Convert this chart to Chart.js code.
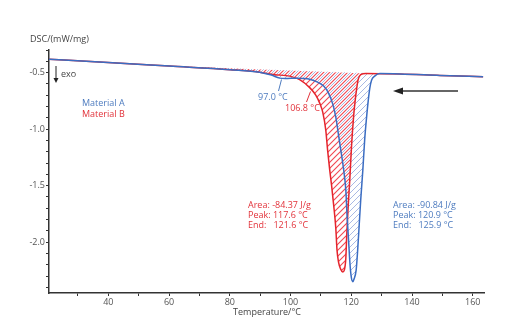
<!DOCTYPE html>
<html><head><meta charset="utf-8">
<script src="https://cdn.jsdelivr.net/npm/chart.js@4.4.0/dist/chart.umd.min.js"></script>
<style>html,body{margin:0;padding:0;background:#fff}canvas{display:block}</style>
</head><body>
<canvas id="c" width="522" height="335"></canvas>
<script>
// Material A (blue) DSC curve
const tempA = [20.46, 39.9, 60.1, 80.2, 89.8, 93.7, 96.4, 98.3, 102.0, 106.3, 108.9, 110.9, 112.5, 113.9, 114.9, 115.8, 116.8, 117.5, 118.2, 118.6, 119.1, 119.6, 120.0, 120.5, 120.9, 121.6, 122.1, 122.6, 123.1, 123.8, 124.4, 125.1, 125.6, 126.1, 126.7, 127.7, 129.4, 136.0, 149.2, 163.4];
const dscA  = [-0.381, -0.410, -0.442, -0.474, -0.496, -0.522, -0.549, -0.553, -0.549, -0.558, -0.584, -0.619, -0.681, -0.779, -0.894, -1.053, -1.230, -1.363, -1.540, -1.761, -1.982, -2.204, -2.310, -2.350, -2.327, -2.248, -2.071, -1.850, -1.628, -1.363, -1.097, -0.876, -0.743, -0.637, -0.566, -0.531, -0.509, -0.512, -0.525, -0.537];
// Material B (red) DSC curve
const tempB = [20.46, 39.9, 60.1, 80.2, 89.8, 94.7, 99.7, 103.0, 106.3, 108.3, 109.6, 110.6, 111.6, 112.2, 112.9, 113.5, 114.2, 114.9, 115.3, 115.8, 116.5, 117.2, 117.7, 118.2, 118.5, 119.0, 119.5, 120.1, 120.8, 121.3, 121.8, 122.3, 123.1, 124.8, 136.0, 149.2, 163.4];
const dscB  = [-0.381, -0.410, -0.442, -0.474, -0.496, -0.518, -0.531, -0.562, -0.633, -0.699, -0.770, -0.850, -1.009, -1.186, -1.363, -1.496, -1.673, -1.876, -2.071, -2.177, -2.239, -2.265, -2.248, -2.142, -1.938, -1.673, -1.451, -1.142, -0.876, -0.743, -0.637, -0.558, -0.518, -0.507, -0.512, -0.525, -0.537];
// Integration baselines (start/end temperature and value)
const baseA = {t: [60.1, 129.4], v: [-0.442, -0.509]};
const baseB = {t: [60.1, 124.8], v: [-0.442, -0.507]};
// Annotation texts
const seriesNames = ['Material A', 'Material B'];
const peakTextA = ['Area: -90.84 J/g', 'Peak: 120.9 °C', 'End:   125.9 °C'];
const peakTextB = ['Area: -84.37 J/g', 'Peak: 117.6 °C', 'End:   121.6 °C'];
const onsetA = '97.0 °C', onsetB = '106.8 °C';

const BLUE = '#3b6dc2', RED = '#e5242c', BLUE_T = '#4d7bbf', RED_T = '#e2323a';
const FONT = '"Open Sans", "Noto Sans", sans-serif';

function pts(t, v){ return t.map((x,i)=>({x:x, y:v[i]})); }
function slice(t, v, a, b){ const r=[]; t.forEach((x,i)=>{ if(x>=a-1e-9 && x<=b+1e-9) r.push({x:x,y:v[i]}); }); return r; }
function hatch(color, shift, w){
  const s=6, c=document.createElement('canvas'); c.width=s; c.height=s;
  const g=c.getContext('2d'); g.strokeStyle=color; g.lineWidth=w;
  g.translate(shift,0);
  g.beginPath();
  for(let k=-2;k<=2;k++){ g.moveTo(k*s-1, s+1); g.lineTo(k*s+s+1, -1); }
  g.stroke();
  return g.createPattern(c,'repeat');
}
const patA = hatch('rgba(95,125,205,0.6)', 3, 0.9);
const patB = hatch('rgba(240,60,72,0.95)', 0, 1.1);

const annot = {
  id:'annot',
  afterDraw(chart){
    const ctx=chart.ctx; ctx.save();
    ctx.font='9px '+FONT; ctx.textBaseline='middle'; ctx.textAlign='left';
    ctx.fillStyle='#444'; ctx.fillText('DSC/(mW/mg)', 30, 39);
    // exo arrow
    ctx.strokeStyle='#222'; ctx.fillStyle='#222'; ctx.lineWidth=1;
    ctx.beginPath(); ctx.moveTo(56,66); ctx.lineTo(56,80); ctx.stroke();
    ctx.beginPath(); ctx.moveTo(53.5,78); ctx.lineTo(58.5,78); ctx.lineTo(56,83); ctx.closePath(); ctx.fill();
    ctx.fillStyle='#444'; ctx.fillText('exo', 61, 74);
    // legend texts
    ctx.fillStyle=BLUE_T; ctx.fillText(seriesNames[0], 82, 103);
    ctx.fillStyle=RED_T; ctx.fillText(seriesNames[1], 82, 114);
    // onset labels + leaders
    ctx.fillStyle=BLUE_T; ctx.fillText(onsetA, 258, 97.5);
    ctx.strokeStyle=BLUE_T; ctx.beginPath(); ctx.moveTo(278.5,91); ctx.lineTo(281.5,79.5); ctx.stroke();
    ctx.fillStyle=RED_T; ctx.fillText(onsetB, 285, 108.5);
    ctx.strokeStyle=RED_T; ctx.beginPath(); ctx.moveTo(306.5,102); ctx.lineTo(310.5,91.5); ctx.stroke();
    // peak blocks
    ctx.fillStyle=RED_T; peakTextB.forEach((s,i)=>ctx.fillText(s, 248, 205+i*10.2));
    ctx.fillStyle=BLUE_T; peakTextA.forEach((s,i)=>ctx.fillText(s, 393, 205+i*10.2));
    // heating direction arrow
    ctx.strokeStyle='#333'; ctx.fillStyle='#222'; ctx.lineWidth=1.6;
    ctx.beginPath(); ctx.moveTo(400,91); ctx.lineTo(458,91); ctx.stroke();
    ctx.beginPath(); ctx.moveTo(393,91); ctx.lineTo(403,87.5); ctx.lineTo(403,94.5); ctx.closePath(); ctx.fill();
    // x title
    ctx.fillStyle='#444'; ctx.textAlign='center'; ctx.fillText('Temperature/°C', 267, 312);
    ctx.restore();
  }
};

new Chart(document.getElementById('c'), {
  type:'line',
  data:{ datasets:[
    {data:pts(tempA,dscA), borderColor:BLUE, borderWidth:1.5, pointRadius:0, cubicInterpolationMode:'monotone', fill:false, order:0},
    {data:pts(tempB,dscB), borderColor:RED, borderWidth:1.5, pointRadius:0, cubicInterpolationMode:'monotone', fill:false, order:1},
    {data:slice(tempA,dscA,baseA.t[0],baseA.t[1]), borderWidth:0, borderColor:'rgba(0,0,0,0)', pointRadius:0, cubicInterpolationMode:'monotone', backgroundColor:patA, fill:3, order:3},
    {data:pts(baseA.t,baseA.v), borderWidth:0, borderColor:'rgba(0,0,0,0)', pointRadius:0, fill:false, order:4},
    {data:slice(tempB,dscB,baseB.t[0],baseB.t[1]), borderWidth:0, borderColor:'rgba(0,0,0,0)', pointRadius:0, cubicInterpolationMode:'monotone', backgroundColor:patB, fill:5, order:2},
    {data:pts(baseB.t,baseB.v), borderWidth:0, borderColor:'rgba(0,0,0,0)', pointRadius:0, fill:false, order:5}
  ]},
  options:{
    responsive:false, animation:false, events:[],
    layout:{padding:{top:50, right:38, left:0, bottom:0}},
    plugins:{legend:{display:false}, tooltip:{enabled:false}},
    scales:{
      x:{type:'linear', min:20.46, max:163.7,
         afterFit:s=>{s.height=42;},
         border:{color:'#333', width:1.5},
         grid:{drawOnChartArea:false, tickLength:3, tickColor:'#333'},
         ticks:{stepSize:10, includeBounds:false, autoSkip:false, maxRotation:0, padding:1, color:'#555', font:{size:9, family:FONT},
                callback:v=>(Math.round(v)%20===0 ? String(Math.round(v)) : '')}},
      y:{type:'linear', min:-2.45, max:-0.3,
         afterFit:s=>{s.width=49;},
         border:{color:'#333', width:1.5},
         grid:{drawOnChartArea:false, tickLength:3, tickColor:'#333'},
         ticks:{stepSize:0.1, includeBounds:false, autoSkip:false, padding:1, color:'#555', font:{size:9, family:FONT},
                callback:v=>{const r=Math.round(v*10); return r%5===0 ? (r/10).toFixed(1) : '';}}}
    }
  },
  plugins:[annot]
});
</script>
</body></html>
